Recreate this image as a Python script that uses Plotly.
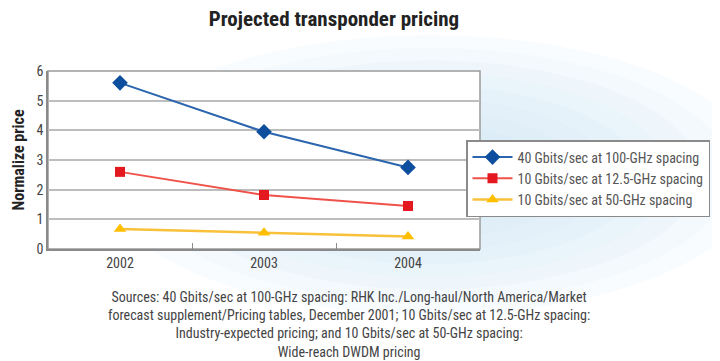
import plotly.graph_objects as go

years = ["2002", "2003", "2004"]
s40_100 = [5.6, 3.95, 2.75]
s10_125 = [2.6, 1.82, 1.45]
s10_50 = [0.67, 0.55, 0.42]
names = ["40 Gbits/sec at 100-GHz spacing",
         "10 Gbits/sec at 12.5-GHz spacing",
         "10 Gbits/sec at 50-GHz spacing"]
title = "Projected transponder pricing"
ytitle = "Normalize price"
source = ("Sources: 40 Gbits/sec at 100-GHz spacing: RHK Inc./Long-haul/North America/Market<br>"
          "forecast supplement/Pricing tables, December 2001; 10 Gbits/sec at 12.5-GHz spacing:<br>"
          "Industry-expected pricing; and 10 Gbits/sec at 50-GHz spacing:<br>"
          "Wide-reach DWDM pricing")

FONT = "Liberation Sans Narrow, Arial Narrow, Roboto Condensed, sans-serif"

# page body has an 8px margin; work in reference pixel coords and shift
OFF = 8
W, H = 720 - OFF, 361 - OFF
L, R, T, B = 48, 480, 71, 249  # plot box in reference pixels

def px(xp):
    return (xp - L) / (R - L)

def py(yp):
    return (B - yp) / (B - T)

fig = go.Figure()
fig.add_trace(go.Scatter(x=years, y=s40_100, name=names[0], mode="lines+markers",
                         line=dict(color="#2b65ad", width=2),
                         marker=dict(symbol="diamond", size=12, color="#0d4f9e")))
fig.add_trace(go.Scatter(x=years, y=s10_125, name=names[1], mode="lines+markers",
                         line=dict(color="#f0524a", width=2),
                         marker=dict(symbol="square", size=10, color="#e3191f")))
fig.add_trace(go.Scatter(x=years, y=s10_50, name=names[2], mode="lines+markers",
                         line=dict(color="#f9c13a", width=2.5),
                         marker=dict(symbol="triangle-up", size=11, color="#ffbf00")))

shapes = []
cx, cy = 430, 175
for i in range(10):
    f = 1 - i / 11
    rx, ry = 330 * f, 140 * f
    shapes.append(dict(type="circle", xref="paper", yref="paper", layer="below",
                       x0=px(cx - rx), x1=px(cx + rx), y0=py(cy + ry), y1=py(cy - ry),
                       fillcolor="#cbe6f7", opacity=0.12, line=dict(width=0)))
shapes.append(dict(type="rect", xref="paper", yref="paper", layer="below",
                   x0=0, x1=1, y0=0, y1=1, fillcolor="white",
                   line=dict(color="#9a9a9a", width=1.5)))

fig.update_layout(
    width=W, height=H,
    margin=dict(l=L - OFF, r=720 - R, t=T - OFF, b=361 - B, autoexpand=False),
    paper_bgcolor="white", plot_bgcolor="rgba(0,0,0,0)",
    font=dict(family=FONT, color="#444444", size=14),
    title=dict(text="<b>" + title + "</b>", x=(334 - OFF) / W, xanchor="center",
               y=1 - 3 / H, yanchor="top", pad=dict(t=0, b=0, l=0, r=0),
               font=dict(family=FONT, size=21, color="#222222")),
    showlegend=True,
    legend=dict(x=px(466), y=py(140), xanchor="left", yanchor="top",
                bgcolor="white", bordercolor="#8a8a8a", borderwidth=1.5,
                font=dict(family=FONT, size=14, color="#555555"),
                itemwidth=40, tracegroupgap=0),
    shapes=shapes,
    annotations=[dict(text=source, xref="paper", yref="paper", x=px(349), y=py(287),
                      xanchor="center", yanchor="top", showarrow=False, align="center",
                      font=dict(family=FONT, size=14, color="#444444"))],
)
fig.update_xaxes(type="category", range=[-0.5, 2.5], showgrid=False,
                 showline=True, linecolor="#8a8a8a", linewidth=1.5,
                 ticks="inside", tickson="boundaries", ticklen=6, tickcolor="#8a8a8a",
                 tickfont=dict(size=14, color="#444444"), automargin=False)
fig.update_yaxes(range=[0, 6], dtick=1, showgrid=True, gridcolor="#bdbdbd", gridwidth=2,
                 showline=True, linecolor="#8a8a8a", linewidth=1.5, zeroline=False,
                 ticks="", tickfont=dict(size=14, color="#444444"), automargin=False,
                 title=dict(text="<b>" + ytitle + "</b>",
                            font=dict(size=16, color="#222222"), standoff=8))

fig.write_html("out.html")
